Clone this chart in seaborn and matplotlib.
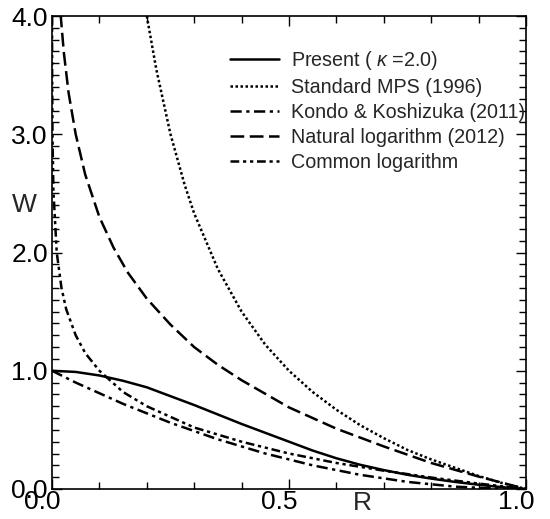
import seaborn as sns
import pandas as pd
import matplotlib.pyplot as plt
import matplotlib
from matplotlib.ticker import MultipleLocator, FormatStrFormatter
from matplotlib.transforms import ScaledTranslation

sns.set_style('ticks')
matplotlib.rcParams['font.family'] = ['Liberation Sans', 'DejaVu Sans']
matplotlib.rcParams['mathtext.fontset'] = 'custom'
matplotlib.rcParams['mathtext.it'] = 'Liberation Sans:italic'

# values
r_present = [0.0, 0.05, 0.1, 0.15, 0.2, 0.25, 0.3, 0.35, 0.4, 0.45, 0.5,
             0.55, 0.6, 0.65, 0.7, 0.75, 0.8, 0.85, 0.9, 0.95, 1.0]
w_present = [1.0, 0.99, 0.96, 0.915, 0.86, 0.785, 0.71, 0.63, 0.55, 0.475, 0.40,
             0.325, 0.26, 0.205, 0.16, 0.12, 0.088, 0.06, 0.036, 0.015, 0.0]

r_standard = [0.20, 0.22, 0.25, 0.28, 0.30, 0.35, 0.40, 0.45, 0.50, 0.55,
              0.60, 0.65, 0.70, 0.75, 0.80, 0.85, 0.90, 0.95, 1.0]
w_standard = [4.0, 3.55, 3.0, 2.57, 2.33, 1.86, 1.5, 1.22, 1.0, 0.82,
              0.67, 0.54, 0.43, 0.33, 0.25, 0.18, 0.11, 0.05, 0.0]

r_kondo = [0.0, 0.05, 0.1, 0.15, 0.2, 0.25, 0.3, 0.35, 0.4, 0.45, 0.5,
           0.55, 0.6, 0.65, 0.7, 0.75, 0.8, 0.85, 0.9, 0.95, 1.0]
w_kondo = [1.0, 0.90, 0.81, 0.72, 0.64, 0.56, 0.49, 0.42, 0.36, 0.30, 0.25,
           0.20, 0.16, 0.12, 0.09, 0.06, 0.04, 0.02, 0.01, 0.003, 0.0]

r_natural = [0.018, 0.025, 0.035, 0.05, 0.07, 0.1, 0.13, 0.16, 0.2, 0.25,
             0.3, 0.35, 0.4, 0.5, 0.6, 0.7, 0.8, 0.9, 1.0]
w_natural = [4.02, 3.69, 3.35, 3.0, 2.66, 2.30, 2.04, 1.83, 1.61, 1.39,
             1.20, 1.05, 0.92, 0.69, 0.51, 0.36, 0.22, 0.105, 0.0]

r_common = [0.0001, 0.0003, 0.001, 0.003, 0.01, 0.02, 0.03, 0.05, 0.07, 0.1,
            0.15, 0.2, 0.3, 0.4, 0.5, 0.6, 0.7, 0.8, 0.9, 1.0]
w_common = [4.0, 3.52, 3.0, 2.52, 2.0, 1.70, 1.52, 1.30, 1.15, 1.0,
            0.82, 0.70, 0.52, 0.40, 0.30, 0.22, 0.155, 0.097, 0.046, 0.0]

labels = ['Present ( $\\kappa$ =2.0)', 'Standard MPS (1996)', 'Kondo & Koshizuka (2011)',
          'Natural logarithm (2012)', 'Common logarithm']
series = [(r_present, w_present), (r_standard, w_standard), (r_kondo, w_kondo),
          (r_natural, w_natural), (r_common, w_common)]

frames = []
for lab, (r, w) in zip(labels, series):
    frames.append(pd.DataFrame({'R': r, 'W': w, 'curve': lab}))
df = pd.concat(frames, ignore_index=True)

dash_map = {labels[0]: '',
            labels[1]: (1.0, 1.0),
            labels[2]: (4.5, 1.8, 1.3, 1.8),
            labels[3]: (5.5, 2.2),
            labels[4]: (3.5, 1.5, 1.3, 1.5, 1.3, 1.5)}

fig = plt.figure(figsize=(5.5, 5.19), dpi=100)
ax = fig.add_axes([52 / 550, 30 / 519, 474 / 550, 473 / 519])

sns.lineplot(data=df, x='R', y='W', style='curve', style_order=labels, dashes=dash_map,
             color='black', lw=1.8, estimator=None, ax=ax)

ax.set_xlim(0, 1)
ax.set_ylim(0, 4)
ax.xaxis.set_major_locator(MultipleLocator(0.5))
ax.xaxis.set_minor_locator(MultipleLocator(0.1))
ax.yaxis.set_major_locator(MultipleLocator(1.0))
ax.yaxis.set_minor_locator(MultipleLocator(0.1))
ax.xaxis.set_major_formatter(FormatStrFormatter('%.1f'))
ax.yaxis.set_major_formatter(FormatStrFormatter('%.1f'))
ax.tick_params(which='both', direction='in', top=True, right=True, width=1, colors='black')
ax.tick_params(which='major', length=7, labelsize=19)
ax.tick_params(axis='x', which='major', pad=1)
ax.tick_params(axis='y', which='major', pad=3)
ax.tick_params(which='minor', length=5)
for s in ax.spines.values():
    s.set_color('black')
    s.set_linewidth(1.2)

# x tick labels sit a little left of their ticks in the reference
shift = ScaledTranslation(-10 / 100, 0, fig.dpi_scale_trans)
for t in ax.get_xticklabels():
    t.set_transform(t.get_transform() + shift)

ax.set_xlabel('R', fontsize=19)
ax.xaxis.set_label_coords(0.655, -0.004)
ax.xaxis.label.set_va('top')
ax.set_ylabel('W', fontsize=19, rotation=0)
ax.yaxis.set_label_coords(-0.058, 0.6)
ax.yaxis.label.set_va('center')

handles, labs = ax.get_legend_handles_labels()
ax.legend(handles, labs, loc='upper left', bbox_to_anchor=(0.375, 0.93), frameon=False,
          fontsize=14.2, handlelength=2.5, handletextpad=0.6, labelspacing=0.3,
          borderpad=0, borderaxespad=0)

plt.savefig('out.png', dpi=100)
